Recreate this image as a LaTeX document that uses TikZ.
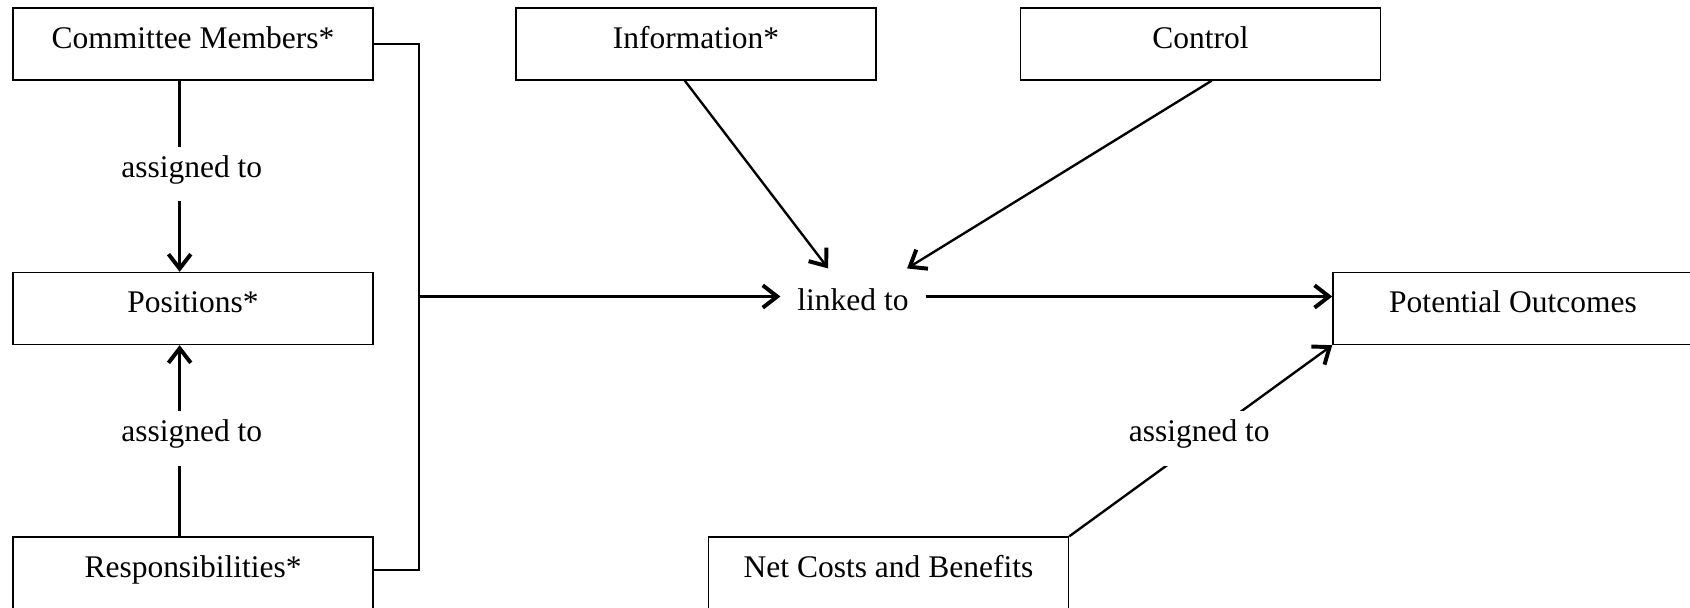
\documentclass[tikz,border=0pt]{standalone}
\usepackage{fontspec}
\setmainfont{Liberation Serif}
\usetikzlibrary{arrows.meta}
\tikzset{
	box/.style={draw,line width=.55pt,minimum width=137.2pt,inner sep=0pt,
		text height=15.4pt,text depth=12pt},
	conn/.style={line width=.9pt},
	arr/.style={conn,-{Straight Barb[length=5.5pt,width=8.5pt,line width=1.5pt]}},
	lbl/.style={fill=white,inner xsep=2pt,inner ysep=5pt,text height=6.56pt,
		text depth=4.24pt,yshift=-2.84pt}
}
\begin{document}
\begin{tikzpicture}[x=.381pt,y=-.381pt,font=\fontsize{12}{14}\selectfont]
	\useasboundingbox (0,0) rectangle (1690,608);
	
	\node[box] (members) at (193,44) {Committee Members*};
	\node[box] (positions) at (193,308.5) {Positions*};
	\node[box] (resp) at (193,573) {Responsibilities*};
	\node[box] (info) at (696,44) {Information*};
	\node[box] (control) at (1200.5,44) {Control};
	\node[box] (outcomes) at (1513,308.5) {Potential Outcomes};
	\node[box] (net) at (888.5,573) {Net Costs and Benefits};
	
	\node[minimum width=54.9pt,minimum height=20.6pt,inner sep=0pt,
	text height=11.2pt,text depth=0pt] (link) at (853,296) {linked to};
	\coordinate (join) at (419,296.5);
	
	\draw[arr] (members.250) -- node[lbl,pos=.45,xshift=4.6pt] {assigned to} 
	(positions.110);
	\draw[arr] (resp.110) -- node[lbl,pos=.55,xshift=4.6pt] {assigned to} 
	(positions.250);
	
	\draw[conn] (members.0.6) -| (join) |- (resp.1.3);
	\draw[arr] (join) -- (join -| link.west);
	\draw[arr] (info.253) -- (link.132);
	\draw[arr] (control.287) -- (link.27);
	\draw[arr] (link.east |- join) -- (join -| outcomes.west);
	\draw[arr] (net.north east) -- node[lbl,pos=.55,xshift=-5.6pt] {assigned to} 
	(outcomes.south west);
\end{tikzpicture}
\end{document}
